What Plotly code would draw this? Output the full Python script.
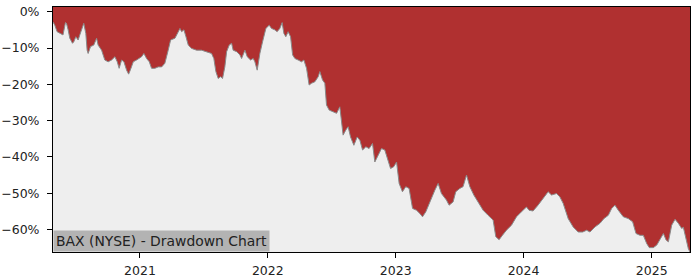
import numpy as np
import pandas as pd
import plotly.graph_objects as go

# Decimal-year positions of traced points and drawdown (%) values
dec_years = [
    2020.322, 2020.336, 2020.354, 2020.388, 2020.400, 2020.419, 2020.427, 2020.440, 2020.453, 2020.474,
    2020.484, 2020.500, 2020.518, 2020.531, 2020.544, 2020.562, 2020.578, 2020.588, 2020.596, 2020.615,
    2020.640, 2020.662, 2020.674, 2020.701, 2020.726, 2020.752, 2020.779, 2020.805, 2020.823, 2020.838,
    2020.857, 2020.875, 2020.896, 2020.912, 2020.930, 2020.948, 2020.974, 2020.995, 2021.013, 2021.031,
    2021.052, 2021.073, 2021.091, 2021.117, 2021.143, 2021.170, 2021.195, 2021.221, 2021.240, 2021.274,
    2021.292, 2021.313, 2021.326, 2021.344, 2021.360, 2021.378, 2021.404, 2021.443, 2021.482, 2021.521,
    2021.560, 2021.578, 2021.594, 2021.612, 2021.631, 2021.646, 2021.664, 2021.678, 2021.698, 2021.717,
    2021.729, 2021.756, 2021.782, 2021.795, 2021.821, 2021.839, 2021.865, 2021.886, 2021.899, 2021.917,
    2021.938, 2021.959, 2021.985, 2022.011, 2022.029, 2022.055, 2022.073, 2022.094, 2022.112, 2022.126,
    2022.141, 2022.159, 2022.178, 2022.194, 2022.212, 2022.237, 2022.264, 2022.282, 2022.303, 2022.323,
    2022.342, 2022.368, 2022.394, 2022.407, 2022.428, 2022.446, 2022.459, 2022.480, 2022.511, 2022.538,
    2022.563, 2022.577, 2022.589, 2022.610, 2022.628, 2022.647, 2022.673, 2022.699, 2022.720, 2022.741,
    2022.767, 2022.792, 2022.819, 2022.837, 2022.863, 2022.889, 2022.915, 2022.933, 2022.960, 2022.985,
    2023.007, 2023.027, 2023.053, 2023.079, 2023.105, 2023.132, 2023.163, 2023.189, 2023.210, 2023.236,
    2023.267, 2023.306, 2023.332, 2023.358, 2023.397, 2023.418, 2023.449, 2023.470, 2023.501, 2023.527,
    2023.554, 2023.580, 2023.611, 2023.644, 2023.684, 2023.723, 2023.762, 2023.783, 2023.809, 2023.835,
    2023.866, 2023.906, 2023.945, 2023.984, 2024.023, 2024.043, 2024.074, 2024.113, 2024.148, 2024.192,
    2024.218, 2024.257, 2024.283, 2024.309, 2024.348, 2024.387, 2024.426, 2024.461, 2024.492, 2024.518,
    2024.557, 2024.596, 2024.627, 2024.661, 2024.687, 2024.713, 2024.739, 2024.778, 2024.817, 2024.851,
    2024.877, 2024.908, 2024.934, 2024.961, 2024.981, 2025.012, 2025.039, 2025.065, 2025.091, 2025.112,
    2025.130, 2025.156, 2025.182, 2025.208, 2025.234, 2025.247, 2025.268, 2025.286, 2025.299,
]

drawdown_pct = [
    -2.8, -3.7, -5.5, -6.0, -6.4, -3.0, -3.2, -5.0, -7.3, -8.7,
    -8.3, -6.9, -7.8, -6.4, -5.0, -3.2, -6.0, -10.6, -11.5, -9.6,
    -9.2, -7.3, -9.2, -10.6, -13.3, -13.8, -13.3, -12.4, -13.8, -15.6,
    -13.3, -13.8, -16.1, -17.2, -15.6, -13.8, -13.3, -12.9, -12.4, -11.5,
    -12.9, -13.8, -15.6, -15.6, -15.2, -15.2, -14.2, -10.6, -7.8, -7.3,
    -6.0, -4.6, -5.5, -5.0, -6.9, -9.2, -10.1, -10.6, -10.6, -11.0,
    -11.5, -12.9, -16.5, -18.4, -17.9, -18.4, -15.2, -11.0, -9.2, -8.7,
    -10.6, -11.0, -11.9, -12.9, -10.6, -12.4, -13.3, -12.9, -13.8, -16.1,
    -11.5, -8.3, -4.6, -3.7, -4.6, -5.0, -5.5, -4.6, -3.0, -6.0,
    -6.9, -5.5, -6.9, -11.9, -12.9, -13.3, -13.8, -13.3, -15.6, -20.2,
    -19.7, -19.3, -17.9, -16.5, -18.8, -19.7, -25.7, -27.1, -27.6, -28.0,
    -26.2, -31.2, -34.0, -32.6, -31.7, -34.5, -36.8, -34.5, -35.4, -38.1,
    -37.2, -37.7, -36.3, -41.4, -39.5, -37.7, -38.1, -40.4, -43.2, -42.7,
    -41.4, -47.3, -49.6, -48.2, -48.7, -54.2, -54.7, -55.6, -56.5, -55.1,
    -52.4, -49.2, -47.3, -50.1, -51.9, -53.3, -52.4, -49.6, -48.7, -48.2,
    -45.0, -48.2, -50.5, -52.4, -54.7, -56.1, -57.4, -62.0, -62.8, -61.6,
    -60.2, -58.8, -56.5, -55.1, -53.8, -54.7, -54.9, -53.3, -51.5, -49.6,
    -50.5, -50.1, -51.0, -52.8, -57.0, -59.3, -60.7, -60.7, -60.2, -60.7,
    -59.3, -58.3, -57.0, -56.1, -54.2, -53.3, -54.7, -56.5, -57.0, -57.9,
    -61.1, -61.6, -61.6, -63.9, -65.0, -65.0, -64.3, -62.5, -61.1, -62.9,
    -63.4, -58.8, -57.2, -58.3, -59.7, -59.4, -62.9, -65.3, -66.2,
]

y_tick_values = [0, -10, -20, -30, -40, -50, -60]
x_tick_years = [2021, 2022, 2023, 2024, 2025]
title_text = "BAX (NYSE) - Drawdown Chart"


def dec_to_date(v):
    yr = int(np.floor(v))
    start = pd.Timestamp(year=yr, month=1, day=1)
    end = pd.Timestamp(year=yr + 1, month=1, day=1)
    return start + (end - start) * (v - yr)


dates = [dec_to_date(v) for v in dec_years]
floor_val = min(drawdown_pct)

RED = "#b03030"
GRAY_BG = "#eeeeee"
TICK_FONT = dict(family="DejaVu Sans", size=12.5, color="#222222")
TITLE_FONT = dict(family="DejaVu Sans", size=13.9, color="#222222")

fig = go.Figure()
fig.add_trace(go.Scatter(
    x=dates, y=[floor_val] * len(dates), mode="lines",
    line=dict(width=0, color=GRAY_BG), hoverinfo="skip", showlegend=False,
))
fig.add_trace(go.Scatter(
    x=dates, y=drawdown_pct, mode="lines", fill="tonexty", fillcolor=GRAY_BG,
    line=dict(color="#8a8a8a", width=1), showlegend=False,
))

fig.update_layout(
    width=700, height=280,
    margin=dict(l=53, r=10, t=7, b=28, autoexpand=False),
    paper_bgcolor="white",
    plot_bgcolor=RED,
    font=TICK_FONT,
    xaxis=dict(
        range=[dates[0], dates[-1]],
        tickvals=[pd.Timestamp(year=y, month=1, day=1) for y in x_tick_years],
        ticktext=[str(y) for y in x_tick_years],
        tickfont=TICK_FONT,
        ticks="outside", ticklen=5, tickwidth=1, tickcolor="black",
        showline=True, linecolor="black", linewidth=1, mirror=True,
        showgrid=False, zeroline=False, automargin=False,
        ticklabelstandoff=2,
    ),
    yaxis=dict(
        range=[floor_val, 1.3],
        tickvals=y_tick_values,
        ticktext=[(f"{v}%").replace("-", "\u2212") for v in y_tick_values],
        tickfont=TICK_FONT,
        ticks="outside", ticklen=5, tickwidth=1, tickcolor="black",
        showline=True, linecolor="black", linewidth=1, mirror=True,
        showgrid=False, zeroline=False, automargin=False,
        ticklabelstandoff=5,
    ),
    annotations=[dict(
        text=title_text, xref="paper", yref="paper", x=0, y=0,
        xanchor="left", yanchor="bottom", showarrow=False,
        bgcolor="#b3b3b3", borderpad=2,
        font=TITLE_FONT,
    )],
)

fig.write_html("out.html")
